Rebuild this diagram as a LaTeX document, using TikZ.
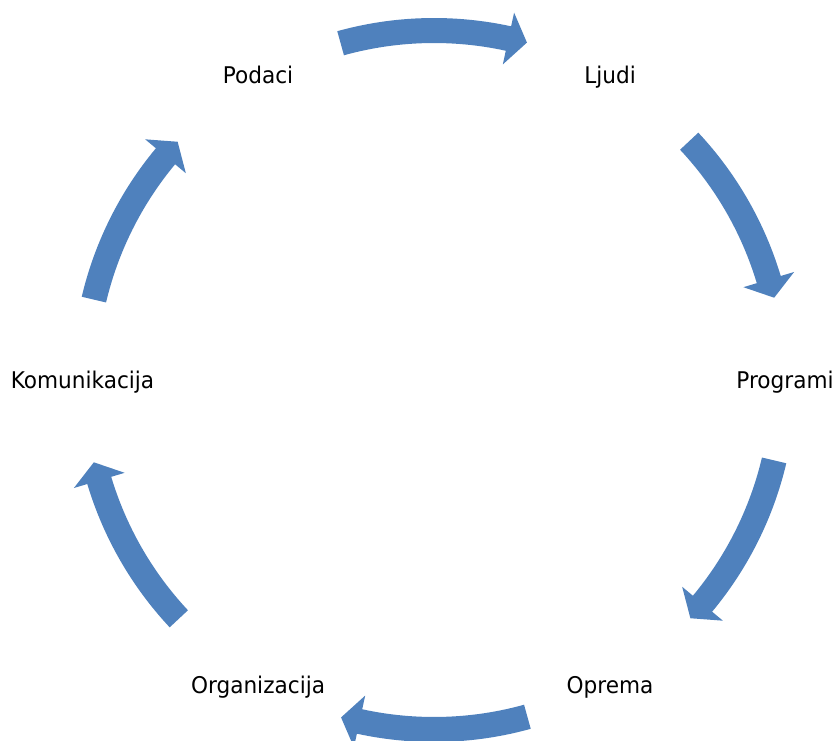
\documentclass[tikz,border=0pt]{standalone}
\usepackage{fontspec}
\setmainfont[FakeStretch=0.94]{DejaVu Sans}
\definecolor{cycblue}{HTML}{4F81BD}
\tikzset{
  lbl/.style={inner sep=0pt, anchor=base, font=\fontsize{23}{27}\selectfont},
  cycarrow/.style={fill=cycblue, draw=none}
}
% #1 tail angle, #2 tip angle (clockwise)
\newcommand{\cycarr}[2]{%
  \pgfmathsetmacro{\hb}{#2+3.1}%
  \fill[cycarrow] (#1:362pt) arc[start angle=#1, end angle=\hb, radius=362pt]
    -- (\hb:376pt) -- (#2:350pt) -- (\hb:323pt) -- (\hb:337pt)
    arc[start angle=\hb, end angle=#1, radius=337pt] -- cycle;}
\begin{document}
\begin{tikzpicture}[x=1pt,y=1pt]
\useasboundingbox (0,0) rectangle (837,740);
\node[lbl] (podaci) at (258,656.5) {Podaci};
\node[lbl] (ljudi) at (610,656.5) {Ljudi};
\node[lbl] (programi) at (785,352) {Programi};
\node[lbl] (oprema) at (610,46.5) {Oprema};
\node[lbl] (organizacija) at (258,46.5) {Organizacija};
\node[lbl] (komunikacija) at (82.5,352) {Komunikacija};
\begin{scope}[shift={(434,360)}]
  \cycarr{105.5}{74.6}
  \cycarr{43.1}{13.6}
  \cycarr{-13.3}{-42.9}
  \cycarr{-74.5}{-105.4}
  \cycarr{223.1}{193.6}
  \cycarr{166.7}{137.1}
\end{scope}
\end{tikzpicture}
\end{document}
